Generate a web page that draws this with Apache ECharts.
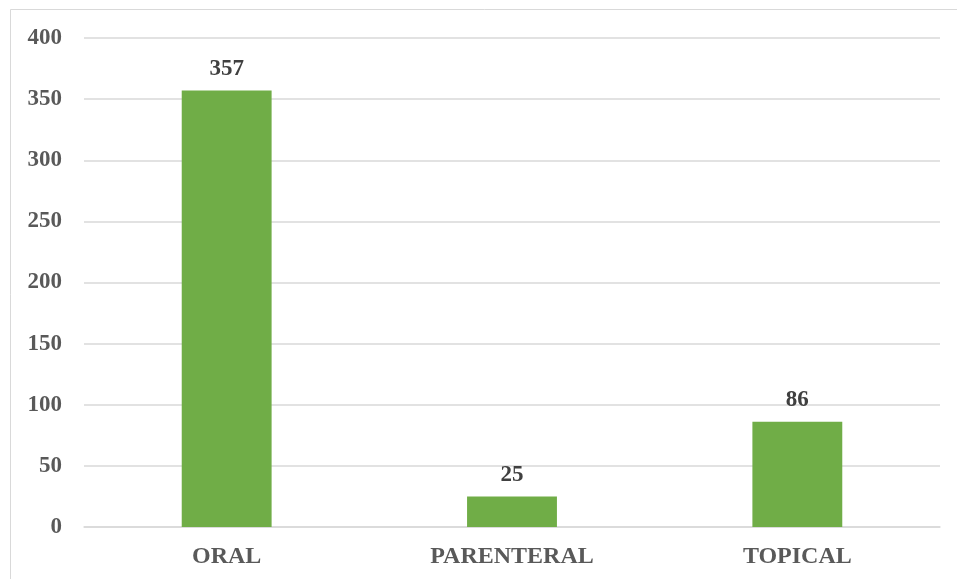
<!DOCTYPE html>
<html>
<head>
<meta charset="utf-8">
<style>
  html, body { margin: 0; padding: 0; background: #fff; }
  #chart { width: 957px; height: 579px; }
</style>
<script src="https://cdn.jsdelivr.net/npm/echarts@6/dist/echarts.min.js"></script>
</head>
<body>
<div id="chart"></div>
<script>
// Administration routes and counts
const categories = ['ORAL', 'PARENTERAL', 'TOPICAL'];
const counts = [357, 25, 86];
const yTicks = { min: 0, max: 400, interval: 50 };

const fontFamily = '"Liberation Serif", "Times New Roman", serif';
const chart = echarts.init(document.getElementById('chart'));

chart.setOption({
  animation: false,
  backgroundColor: '#ffffff',
  graphic: [{
    type: 'rect',
    shape: { x: 10.5, y: 9.5, width: 1000, height: 1000 },
    style: { fill: 'none', stroke: '#d9d9d9', lineWidth: 1 },
    silent: true
  }],
  grid: { left: 84, right: 17, top: 38, bottom: 52, containLabel: false },
  xAxis: {
    type: 'category',
    data: categories,
    axisLine: { show: true, lineStyle: { color: '#d9d9d9', width: 1.5 } },
    axisTick: { show: false },
    axisLabel: {
      color: '#595959',
      fontFamily: fontFamily,
      fontWeight: 'bold',
      fontSize: 24,
      margin: 18
    }
  },
  yAxis: {
    type: 'value',
    min: yTicks.min,
    max: yTicks.max,
    interval: yTicks.interval,
    axisLine: { show: false },
    axisTick: { show: false },
    splitLine: { lineStyle: { color: '#d9d9d9', width: 1.5 } },
    axisLabel: {
      color: '#595959',
      fontFamily: fontFamily,
      fontWeight: 'bold',
      fontSize: 23,
      margin: 22
    }
  },
  series: [{
    type: 'bar',
    data: counts,
    barWidth: '31.5%',
    itemStyle: { color: '#70ad47' },
    label: {
      show: true,
      position: 'top',
      distance: 10,
      color: '#404040',
      fontFamily: fontFamily,
      fontWeight: 'bold',
      fontSize: 23
    }
  }]
});
</script>
</body>
</html>
